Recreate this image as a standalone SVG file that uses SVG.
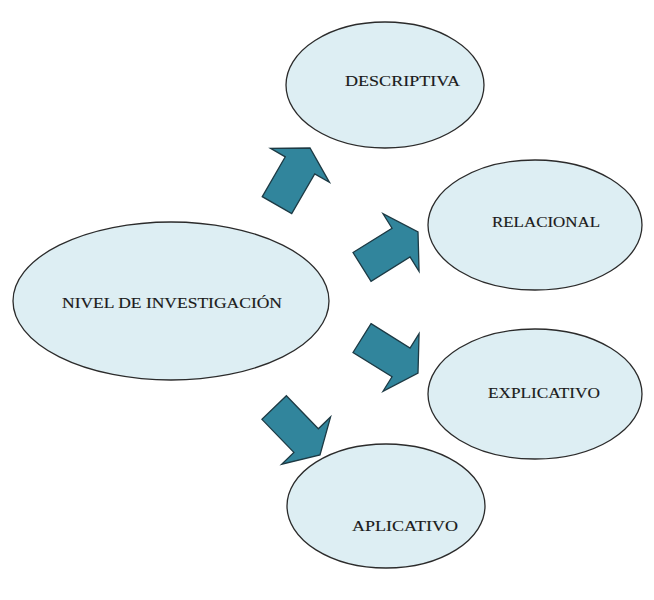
<svg xmlns="http://www.w3.org/2000/svg" xmlns:xlink="http://www.w3.org/1999/xlink" width="654" height="600" viewBox="0 0 654 600">
  <style>
    .node ellipse { fill: #DDEEF3; stroke: #2b2b2b; stroke-width: 1.3; }
    .node text { font-family: "Liberation Serif", "Times New Roman", serif; font-size: 15px; fill: #1a1a1a; stroke: #1a1a1a; stroke-width: 0.15; }
    .block { fill: #31859C; stroke: #1d3a44; stroke-width: 1.3; stroke-linejoin: miter; }
  </style>
  <defs>
    <!-- block arrow pointing along +x with its tip at the origin -->
    <polygon id="blockArrow" class="block" points="-66,-17 -20,-17 -20,-34 0,0 -20,34 -20,17 -66,17"/>
  </defs>
  <rect width="654" height="600" fill="#ffffff"/>

  <g id="connectors">
    <use xlink:href="#blockArrow" href="#blockArrow" transform="translate(310,148) rotate(-60)"/>
    <use xlink:href="#blockArrow" href="#blockArrow" transform="translate(418,232) rotate(-32)"/>
    <use xlink:href="#blockArrow" href="#blockArrow" transform="translate(418,373) rotate(32)"/>
    <use xlink:href="#blockArrow" href="#blockArrow" transform="translate(320,455) rotate(46)"/>
  </g>

  <g id="nivel" class="node">
    <ellipse cx="171" cy="301" rx="158" ry="79"/>
    <text x="62" y="308" textLength="220" lengthAdjust="spacingAndGlyphs">NIVEL DE INVESTIGACIÓN</text>
  </g>

  <g id="descriptiva" class="node">
    <ellipse cx="385" cy="85" rx="99" ry="63"/>
    <text x="345" y="86" textLength="115" lengthAdjust="spacingAndGlyphs">DESCRIPTIVA</text>
  </g>

  <g id="relacional" class="node">
    <ellipse cx="535" cy="225" rx="107" ry="65"/>
    <text x="492" y="227" textLength="108" lengthAdjust="spacingAndGlyphs">RELACIONAL</text>
  </g>

  <g id="explicativo" class="node">
    <ellipse cx="535" cy="394" rx="107" ry="65"/>
    <text x="488" y="398" textLength="112" lengthAdjust="spacingAndGlyphs">EXPLICATIVO</text>
  </g>

  <g id="aplicativo" class="node">
    <ellipse cx="386" cy="506" rx="99" ry="62"/>
    <text x="352" y="531" textLength="106" lengthAdjust="spacingAndGlyphs">APLICATIVO</text>
  </g>
</svg>
